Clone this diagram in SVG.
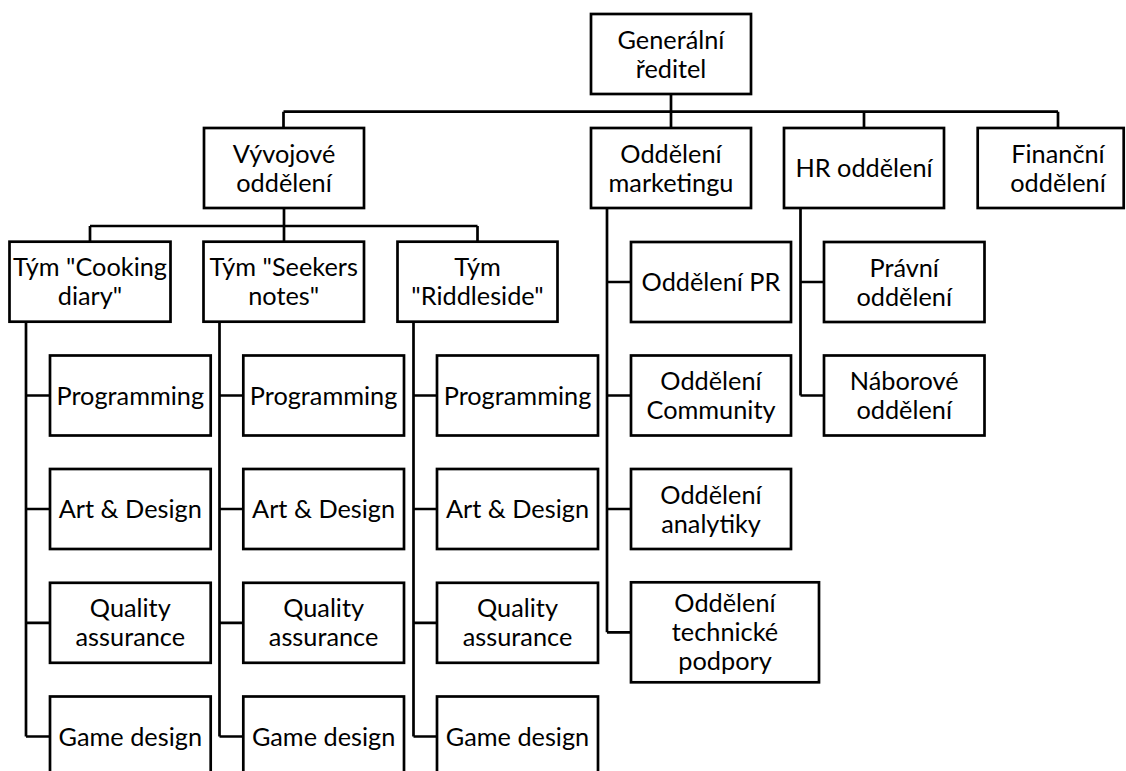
<svg xmlns="http://www.w3.org/2000/svg" width="1126" height="771" viewBox="0 0 1126 771">
<style>
.box{fill:#fff;stroke:#000;stroke-width:2.7}
.c{fill:none;stroke:#000;stroke-width:2.7}
text{font-family:Lato,"Noto Sans","Liberation Sans",sans-serif;font-size:25.3px;fill:#000;text-anchor:middle}
</style>
<rect width="1126" height="771" fill="#fff"/>
<g id="connectors" class="c">
<path d="M671 94V111.7M283.5 111.7H1058M283.5 111.7V128M671 111.7V128M864 111.7V128M1058 111.7V130"/>
<path d="M284 208V226M90 226H477.5M90 226V241.7M284 226V241.7M477.5 226V241.7"/>
<path d="M26 321.7V736.5M26 395.5H50M26 509H50M26 622.8H50M26 736.5H50"/>
<path d="M219.5 321.7V736.5M219.5 395.5H243.3M219.5 509H243.3M219.5 622.8H243.3M219.5 736.5H243.3"/>
<path d="M413.5 321.7V736.5M413.5 395.5H437M413.5 509H437M413.5 622.8H437M413.5 736.5H437"/>
<path d="M607 208V632.3M607 282H631M607 395.5H631M607 509H631M607 632.3H631"/>
<path d="M800.5 208V395.5M800.5 282H824M800.5 395.5H824"/>
</g>
<g id="ceo"><rect class="box" x="591" y="14" width="160" height="80"/><text x="671" y="48.5">Generální</text><text x="671" y="77.5">ředitel</text></g>
<g id="dev"><rect class="box" x="204" y="128" width="160" height="80"/><text x="284" y="162.5">Vývojové</text><text x="284" y="191.5">oddělení</text></g>
<g id="marketing"><rect class="box" x="591" y="128" width="160" height="80"/><text x="671" y="162.5">Oddělení</text><text x="671" y="191.5">marketingu</text></g>
<g id="hr"><rect class="box" x="784" y="128" width="160" height="80"/><text x="864" y="177">HR oddělení</text></g>
<g id="finance"><rect class="box" x="977.7" y="128" width="146" height="80"/><text x="1058" y="162.5">Finanční</text><text x="1058" y="191.5">oddělení</text></g>
<g id="team1"><rect class="box" x="9.5" y="241.7" width="161" height="80"/><text x="90" y="276.2">Tým "Cooking</text><text x="90" y="305.2">diary"</text></g>
<g id="team2"><rect class="box" x="203.5" y="241.7" width="160.5" height="80"/><text x="283.7" y="276.2">Tým "Seekers</text><text x="283.7" y="305.2">notes"</text></g>
<g id="team3"><rect class="box" x="397.5" y="241.7" width="160" height="80"/><text x="477.5" y="276.2">Tým</text><text x="477.5" y="305.2">"Riddleside"</text></g>
<g id="t1-prog"><rect class="box" x="50" y="355.5" width="160.7" height="80"/><text x="130.3" y="404.5">Programming</text></g>
<g id="t1-art"><rect class="box" x="50" y="469" width="160.7" height="80"/><text x="130.3" y="518">Art &amp; Design</text></g>
<g id="t1-qa"><rect class="box" x="50" y="582.8" width="160.7" height="80"/><text x="130.3" y="617.3">Quality</text><text x="130.3" y="646.3">assurance</text></g>
<g id="t1-gd"><rect class="box" x="50" y="696.5" width="160.7" height="80"/><text x="130.3" y="745.5">Game design</text></g>
<g id="t2-prog"><rect class="box" x="243.3" y="355.5" width="160.7" height="80"/><text x="323.6" y="404.5">Programming</text></g>
<g id="t2-art"><rect class="box" x="243.3" y="469" width="160.7" height="80"/><text x="323.6" y="518">Art &amp; Design</text></g>
<g id="t2-qa"><rect class="box" x="243.3" y="582.8" width="160.7" height="80"/><text x="323.6" y="617.3">Quality</text><text x="323.6" y="646.3">assurance</text></g>
<g id="t2-gd"><rect class="box" x="243.3" y="696.5" width="160.7" height="80"/><text x="323.6" y="745.5">Game design</text></g>
<g id="t3-prog"><rect class="box" x="437" y="355.5" width="161" height="80"/><text x="517.5" y="404.5">Programming</text></g>
<g id="t3-art"><rect class="box" x="437" y="469" width="161" height="80"/><text x="517.5" y="518">Art &amp; Design</text></g>
<g id="t3-qa"><rect class="box" x="437" y="582.8" width="161" height="80"/><text x="517.5" y="617.3">Quality</text><text x="517.5" y="646.3">assurance</text></g>
<g id="t3-gd"><rect class="box" x="437" y="696.5" width="161" height="80"/><text x="517.5" y="745.5">Game design</text></g>
<g id="m-pr"><rect class="box" x="631" y="242" width="160" height="80"/><text x="711" y="291">Oddělení PR</text></g>
<g id="m-comm"><rect class="box" x="631" y="355.5" width="160" height="80"/><text x="711" y="390">Oddělení</text><text x="711" y="419">Community</text></g>
<g id="m-anal"><rect class="box" x="631" y="469" width="160" height="80"/><text x="711" y="503.5">Oddělení</text><text x="711" y="532.5">analytiky</text></g>
<g id="m-tech"><rect class="box" x="631" y="582.3" width="188" height="100"/><text x="725" y="612.3">Oddělení</text><text x="725" y="641.3">technické</text><text x="725" y="670.3">podpory</text></g>
<g id="hr-legal"><rect class="box" x="824" y="242" width="160.5" height="80"/><text x="904.2" y="276.5">Právní</text><text x="904.2" y="305.5">oddělení</text></g>
<g id="hr-recruit"><rect class="box" x="824" y="355.5" width="160.5" height="80"/><text x="904.2" y="390">Náborové</text><text x="904.2" y="419">oddělení</text></g>
</svg>
